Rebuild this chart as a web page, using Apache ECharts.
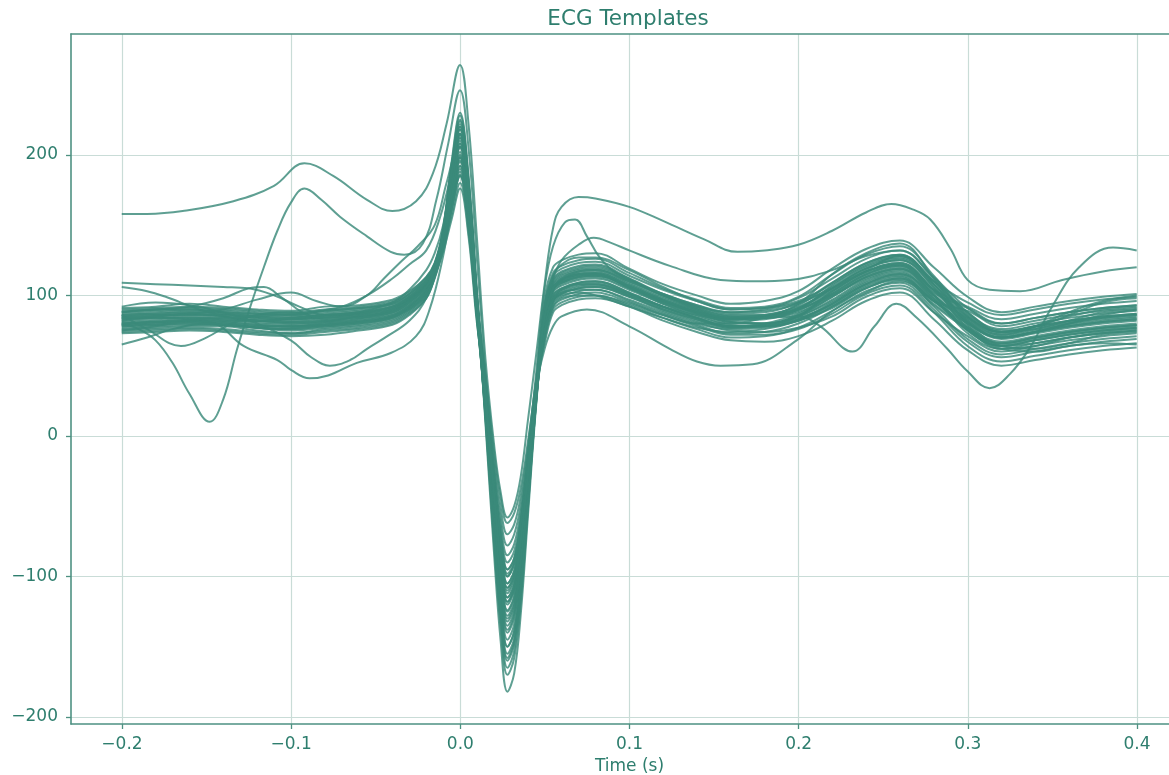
<!DOCTYPE html>
<html>
<head>
<meta charset="utf-8">
<script src="https://cdn.jsdelivr.net/npm/echarts@6/dist/echarts.min.js"></script>
<style>html,body{margin:0;padding:0;background:#fff}#chart{width:1169px;height:775px}</style>
</head>
<body>
<div id="chart"></div>
<script>
// ---------- data ----------
const chartTitle = 'ECG Templates';
const xAxisName = 'Time (s)';
const xTickValues = [-0.2, -0.1, 0.0, 0.1, 0.2, 0.3, 0.4];
const yTickValues = [-200, -100, 0, 100, 200];

// shared sample times (s) for the main bundle of templates
const times = [-0.20,-0.18,-0.16,-0.14,-0.12,-0.10,-0.08,-0.06,-0.04,-0.03,-0.02,
  -0.015,-0.01,-0.005,0,0.005,0.01,
  0.015,0.02,0.024,0.028,0.032,0.036,0.04,0.045,
  0.05,0.055,0.06,0.07,0.08,
  0.10,0.12,0.14,0.16,0.18,0.20,
  0.22,0.24,0.26,0.28,
  0.30,0.32,0.34,0.36,0.38,0.40];

const bundle01 = [84,85,87,85,82,83,84,86,90,97,108, 119,146,191,225,181,100, 9,-82,-146,-182,-169,-125,-59,22, 84,107,112,116,117, 108,98,90,84,85,91, 105,119,125,106, 82,71,75,79,82,84];
const bundle02 = [79,80,81,80,78,78,79,81,85,92,103, 116,143,184,215,173,96, 12,-75,-136,-170,-158,-117,-54,24, 78,100,105,109,110, 102,92,84,78,79,86, 99,113,119,98, 75,64,68,72,75,77];
const bundle03 = [88,90,90,88,87,86,89,91,94,101,111, 122,139,172,200,161,90, 15,-69,-127,-160,-148,-109,-49,25, 88,110,115,119,120, 111,101,93,87,88,95, 109,123,129,110, 87,76,80,84,87,89];
const bundle04 = [76,77,78,78,75,73,76,78,82,89,100, 114,136,165,190,153,86, 18,-63,-119,-150,-139,-102,-45,27, 72,94,99,103,104, 96,87,79,73,74,80, 92,106,112,92, 69,58,62,66,69,71];
const bundle05 = [82,84,83,82,82,80,81,85,88,95,106, 118,142,180,210,169,94, 20,-60,-114,-145,-134,-98,-43,27, 83,105,110,114,115, 106,96,88,82,83,89, 102,116,122,103, 81,70,74,78,81,83];
const bundle06 = [91,92,94,92,90,89,92,93,97,103,113, 123,148,195,230,185,102, 21,-57,-110,-140,-129,-94,-40,28, 92,114,119,123,124, 114,104,96,90,91,98, 112,126,132,113, 91,80,84,88,91,93];
const bundle07 = [73,74,75,74,72,71,72,75,79,86,98, 113,133,157,180,145,82, 23,-54,-106,-135,-125,-90,-38,29, 68,90,95,99,100, 93,84,76,70,71,76, 87,101,107,88, 64,53,57,61,64,66];
const bundle08 = [85,86,86,86,84,83,85,87,91,97,108, 120,137,169,195,157,88, 24,-51,-102,-130,-120,-87,-36,30, 80,102,107,111,112, 104,94,86,80,80,85, 97,111,117,98, 84,73,77,81,84,86];
const bundle09 = [80,81,82,81,79,78,80,82,86,93,104, 117,145,187,220,177,98, 26,-48,-97,-125,-115,-83,-34,30, 86,108,113,117,118, 109,99,90,84,85,91, 105,119,125,106, 77,66,70,74,77,79];
const bundle10 = [87,88,89,88,86,85,87,89,93,99,110, 121,140,176,205,165,92, 27,-45,-93,-120,-110,-79,-31,31, 76,98,103,107,108, 101,91,83,77,78,83, 94,108,114,96, 89,78,82,86,89,91];
const bundle11 = [77,78,79,79,77,75,77,79,83,90,101, 115,134,161,185,149,84, 29,-42,-89,-115,-106,-75,-29,32, 82,104,109,113,114, 106,96,88,83,85,94, 115,130,137,112, 79,64,66,70,73,75];
const bundle12 = [83,84,85,84,82,81,83,85,89,96,107, 119,142,181,212,171,95, 30,-39,-85,-110,-101,-72,-27,33, 90,112,117,121,122, 112,101,92,86,86,90, 101,115,121,104, 92,83,87,91,94,96];
const bundle13 = [78,79,80,79,77,76,78,80,84,91,102, 116,138,171,198,159,89, 32,-36,-80,-105,-96,-68,-25,33, 74,96,101,105,106, 99,89,81,75,74,77, 85,99,105,88, 71,60,64,68,71,73];
const bundle14 = [89,90,91,90,88,87,89,91,95,101,112, 122,145,189,222,179,99, 33,-33,-76,-100,-91,-64,-22,34, 84,106,111,115,116, 107,97,89,83,84,90, 107,121,127,110, 95,86,90,94,97,99];
const bundle15 = [75,76,77,76,74,73,75,77,81,88,99, 114,131,154,176,142,80, 35,-30,-72,-95,-87,-60,-20,35, 70,92,97,101,102, 95,86,78,72,72,77, 89,103,109,90, 67,56,60,64,67,69];
const bundle16 = [86,87,88,87,85,84,86,88,92,98,109, 120,141,178,208,167,93, 36,-27,-68,-90,-82,-57,-18,36, 94,116,121,125,126, 116,105,97,91,92,99, 115,129,135,114, 85,74,78,82,85,87];
const bundle17 = [81,82,83,82,80,79,81,83,87,94,105, 117,136,166,192,155,87, 38,-24,-63,-85,-77,-53,-16,36, 77,99,104,108,109, 101,92,84,78,78,83, 95,109,115,96, 80,69,73,77,80,82];
const bundle18 = [84,85,86,85,83,82,84,86,90,97,108, 119,147,193,228,183,101, 40,-20,-58,-78,-70,-48,-13,37, 87,109,114,118,119, 110,100,91,85,84,88, 100,114,120,101, 75,64,68,72,75,77];
const bundle19 = [74,75,76,75,73,72,74,76,80,87,98, 113,135,163,188,151,85, 42,-15,-51,-70,-63,-42,-9,39, 66,88,93,97,98, 92,82,74,68,67,71, 82,96,102,83, 61,50,54,58,61,63];
const bundle20 = [90,91,92,91,89,88,90,92,96,102,113, 123,143,184,215,173,96, 45,-10,-44,-62,-55,-36,-5,40, 98,120,125,129,130, 119,108,100,94,96,103, 119,133,139,120, 99,88,92,96,99,101];
const bundle21 = [79,80,81,80,78,77,79,81,85,92,103, 116,139,174,202,163,91, 17,-66,-123,-155,-144,-105,-47,26, 75,97,102,106,107, 100,90,82,77,78,85, 103,117,123,104, 83,72,76,80,83,85];
const bundle22 = [85,86,87,86,84,83,85,87,91,98,108, 120,137,169,196,158,88, 14,-72,-131,-165,-153,-113,-52,24, 82,104,109,113,114, 106,95,87,81,80,84, 93,107,113,94, 77,66,70,74,77,79];
const bundle23 = [83,84,84,83,82,81,82,85,89,96,107, 119,144,186,218,175,97, 22,-56,-108,-138,-127,-93,-40,29, 81,103,108,112,113, 105,95,87,81,80,85, 96,110,116,97, 78,67,71,75,78,80];
const bundle24 = [80,81,82,81,79,78,80,82,86,93,104, 117,140,177,206,166,92, 25,-50,-100,-128,-118,-85,-35,30, 84,106,111,115,116, 107,97,89,83,84,90, 103,117,123,104, 85,74,78,82,85,87];
const bundle25 = [86,87,88,87,85,84,86,88,92,99,109, 120,134,162,186,150,84, 18,-63,-119,-150,-139,-102,-45,27, 78,100,105,109,110, 102,92,84,78,79,86, 99,113,119,100, 73,62,66,70,73,75];
const bundle26 = [78,79,80,79,77,76,78,80,84,91,102, 116,146,190,224,180,99, 28,-44,-91,-118,-108,-77,-30,32, 89,111,116,120,121, 111,100,91,85,86,93, 109,123,129,108, 81,70,74,78,81,83];
const bundle27 = [88,89,90,89,87,86,88,90,94,100,111, 122,138,171,199,160,89, 16,-68,-125,-158,-146,-108,-48,25, 83,105,110,114,115, 105,94,85,79,78,82, 91,105,111,93, 76,65,69,73,76,78];
const bundle28 = [82,83,84,83,81,80,82,84,88,95,106, 118,143,183,214,172,96, 31,-38,-83,-108,-99,-70,-26,33, 74,96,101,105,106, 99,90,83,78,80,87, 101,115,121,102, 91,80,84,88,91,93];

// outlying templates, as [time, value] pairs
const outlierA = [[-0.2,158],[-0.185,158],[-0.164,160],[-0.134,167],[-0.11,178],[-0.092,194],[-0.075,185],[-0.055,168],[-0.04,160],[-0.026,167],[-0.016,187],[-0.008,222],[0,264],[0.005,222],[0.01,140],[0.015,55],[0.02,-5],[0.024,-40],[0.028,-58],[0.032,-50],[0.036,-28],[0.04,10],[0.045,58],[0.05,108],[0.055,148],[0.06,163],[0.07,170],[0.08,169],[0.1,163],[0.12,153],[0.144,140],[0.164,131],[0.18,132],[0.2,136],[0.22,146],[0.24,159],[0.255,165],[0.268,161],[0.278,154],[0.29,133],[0.3,111],[0.313,104],[0.331,103],[0.356,111],[0.38,117],[0.4,120]];
const outlierB = [[-0.2,80],[-0.19,76],[-0.18,68],[-0.17,52],[-0.16,30],[-0.148,10],[-0.14,26],[-0.132,61],[-0.124,92],[-0.116,120],[-0.108,146],[-0.1,166],[-0.092,176],[-0.082,168],[-0.071,156],[-0.055,142],[-0.041,131],[-0.033,129],[-0.022,137],[-0.014,168],[-0.007,208],[0,246],[0.005,205],[0.01,125],[0.015,45],[0.02,-25],[0.024,-70],[0.028,-95],[0.032,-87],[0.036,-60],[0.04,-15],[0.045,45],[0.05,105],[0.055,135],[0.062,152],[0.068,154],[0.075,142],[0.082,128],[0.09,118],[0.1,112],[0.12,100],[0.14,92],[0.16,88],[0.18,90],[0.2,95],[0.22,105],[0.24,118],[0.26,128],[0.28,110],[0.3,88],[0.32,75],[0.34,78],[0.36,85],[0.38,90],[0.4,92]];
const outlierC = [[-0.2,75],[-0.18,78],[-0.16,82],[-0.145,80],[-0.128,64],[-0.108,54],[-0.1,47],[-0.089,41],[-0.078,43],[-0.061,52],[-0.041,59],[-0.026,71],[-0.018,90],[-0.01,128],[-0.005,162],[0,185],[0.005,150],[0.01,85],[0.015,28],[0.02,-44],[0.024,-91],[0.028,-118],[0.032,-109],[0.036,-78],[0.04,-30],[0.045,31],[0.05,78],[0.055,95],[0.06,100],[0.07,102],[0.08,100],[0.1,92],[0.12,84],[0.14,77],[0.16,74],[0.18,76],[0.2,82],[0.22,92],[0.24,105],[0.26,112],[0.28,96],[0.3,76],[0.32,62],[0.34,64],[0.36,70],[0.38,74],[0.4,76]];
const outlierD = [[-0.2,92],[-0.18,95],[-0.16,93],[-0.14,88],[-0.12,80],[-0.1,68],[-0.088,56],[-0.077,50],[-0.065,54],[-0.055,62],[-0.043,71],[-0.03,82],[-0.02,98],[-0.012,128],[-0.005,168],[0,192],[0.005,155],[0.01,87],[0.015,31],[0.02,-38],[0.024,-83],[0.028,-108],[0.032,-99],[0.036,-70],[0.04,-26],[0.045,33],[0.05,80],[0.055,97],[0.06,102],[0.07,104],[0.08,104],[0.1,97],[0.12,88],[0.14,80],[0.16,76],[0.18,77],[0.2,82],[0.22,94],[0.24,108],[0.26,115],[0.28,100],[0.3,80],[0.32,70],[0.34,74],[0.36,80],[0.38,86],[0.4,90]];
const outlierE = [[-0.2,88],[-0.18,90],[-0.16,92],[-0.14,98],[-0.125,105],[-0.116,106],[-0.105,98],[-0.09,86],[-0.07,82],[-0.05,86],[-0.04,90],[-0.03,96],[-0.02,106],[-0.015,118],[-0.01,141],[-0.005,178],[0,208],[0.005,168],[0.01,94],[0.015,32],[0.02,-36],[0.024,-80],[0.028,-105],[0.032,-96],[0.036,-68],[0.04,-25],[0.045,33],[0.05,88],[0.055,112],[0.06,125],[0.07,136],[0.079,141],[0.09,137],[0.1,132],[0.124,121],[0.154,111],[0.175,110],[0.195,111],[0.22,118],[0.24,128],[0.26,132],[0.28,112],[0.3,88],[0.32,74],[0.34,78],[0.36,86],[0.38,95],[0.4,98]];
const outlierF = [[-0.2,109],[-0.18,108],[-0.16,107],[-0.14,106],[-0.125,105],[-0.11,100],[-0.095,92],[-0.08,86],[-0.06,87],[-0.04,92],[-0.03,99],[-0.02,110],[-0.015,122],[-0.01,145],[-0.005,183],[0,215],[0.005,173],[0.01,96],[0.015,33],[0.02,-33],[0.024,-76],[0.028,-100],[0.032,-91],[0.036,-64],[0.04,-22],[0.045,34],[0.05,62],[0.055,78],[0.06,85],[0.075,90],[0.1,78],[0.124,62],[0.14,53],[0.154,50],[0.173,51],[0.199,68],[0.219,88],[0.24,102],[0.26,110],[0.28,96],[0.3,76],[0.32,62],[0.34,60],[0.36,64],[0.38,66],[0.4,65]];
const outlierG = [[-0.2,106],[-0.185,103],[-0.174,99],[-0.154,90],[-0.135,84],[-0.115,82],[-0.1,84],[-0.08,86],[-0.06,88],[-0.04,95],[-0.03,104],[-0.02,118],[-0.015,130],[-0.01,150],[-0.005,185],[0,220],[0.005,178],[0.01,98],[0.015,34],[0.02,-32],[0.024,-74],[0.028,-98],[0.032,-89],[0.036,-62],[0.04,-21],[0.045,34],[0.05,92],[0.055,114],[0.06,122],[0.07,127],[0.08,127],[0.1,118],[0.12,106],[0.14,96],[0.16,90],[0.18,91],[0.2,96],[0.22,108],[0.24,122],[0.26,128],[0.28,108],[0.3,84],[0.32,72],[0.34,78],[0.36,88],[0.38,96],[0.4,100]];
const outlierH = [[-0.2,86],[-0.185,76],[-0.165,64],[-0.15,70],[-0.135,80],[-0.12,86],[-0.1,88],[-0.08,84],[-0.06,84],[-0.04,88],[-0.03,95],[-0.02,106],[-0.015,119],[-0.01,141],[-0.005,177],[0,206],[0.005,166],[0.01,93],[0.015,26],[0.02,-47],[0.024,-96],[0.028,-124],[0.032,-114],[0.036,-82],[0.04,-33],[0.045,31],[0.05,78],[0.055,97],[0.06,104],[0.07,108],[0.08,108],[0.1,100],[0.12,92],[0.14,86],[0.16,83],[0.18,84],[0.2,85],[0.213,78],[0.232,60],[0.245,78],[0.258,94],[0.27,84],[0.288,62],[0.3,46],[0.313,34],[0.325,44],[0.337,63],[0.35,92],[0.366,120],[0.386,134],[0.4,132]];
const outlierJ = [[-0.2,65],[-0.185,70],[-0.17,76],[-0.15,80],[-0.13,78],[-0.11,76],[-0.09,78],[-0.07,80],[-0.05,82],[-0.04,85],[-0.03,90],[-0.02,100],[-0.015,112],[-0.01,134],[-0.005,170],[0,198],[0.005,160],[0.01,88],[0.015,24],[0.02,-52],[0.024,-103],[0.028,-132],[0.032,-122],[0.036,-88],[0.04,-37],[0.045,29],[0.05,74],[0.055,92],[0.06,98],[0.07,100],[0.08,100],[0.1,94],[0.12,86],[0.14,80],[0.16,80],[0.18,84],[0.2,90],[0.22,100],[0.24,112],[0.26,118],[0.28,100],[0.3,80],[0.32,64],[0.34,62],[0.36,66],[0.38,72],[0.4,74]];
const outlierK = [[-0.2,84],[-0.17,86],[-0.14,90],[-0.12,97],[-0.1,102],[-0.085,96],[-0.07,92],[-0.055,100],[-0.045,112],[-0.035,124],[-0.025,135],[-0.015,150],[-0.008,180],[0,212],[0.005,170],[0.01,95],[0.015,29],[0.02,-42],[0.024,-89],[0.028,-115],[0.032,-106],[0.036,-75],[0.04,-29],[0.045,32],[0.05,84],[0.055,104],[0.06,111],[0.07,115],[0.08,115],[0.1,106],[0.12,96],[0.14,88],[0.16,84],[0.18,86],[0.2,92],[0.22,104],[0.24,117],[0.26,122],[0.28,104],[0.3,82],[0.32,70],[0.34,74],[0.36,80],[0.38,84],[0.4,86]];
const outlierL = [[-0.2,80],[-0.17,82],[-0.14,84],[-0.11,86],[-0.09,88],[-0.07,92],[-0.055,100],[-0.04,112],[-0.03,122],[-0.02,132],[-0.012,155],[-0.005,188],[0,218],[0.005,176],[0.01,97],[0.015,30],[0.02,-40],[0.024,-87],[0.028,-112],[0.032,-103],[0.036,-73],[0.04,-28],[0.045,33],[0.05,85],[0.055,105],[0.06,112],[0.07,117],[0.08,118],[0.1,110],[0.12,101],[0.14,93],[0.16,88],[0.18,89],[0.2,94],[0.22,106],[0.24,120],[0.26,126],[0.28,108],[0.3,86],[0.32,74],[0.34,76],[0.36,82],[0.38,88],[0.4,90]];

const bundleSeries = [bundle01,bundle02,bundle03,bundle04,bundle05,bundle06,bundle07,bundle08,bundle09,bundle10,bundle11,bundle12,bundle13,bundle14,
  bundle15,bundle16,bundle17,bundle18,bundle19,bundle20,bundle21,bundle22,bundle23,bundle24,bundle25,bundle26,bundle27,bundle28];
const outlierSeries = [outlierA,outlierB,outlierC,outlierD,outlierE,outlierF,outlierG,outlierH,outlierJ,outlierK,outlierL];

// ---------- style ----------
const TEXT = '#2e7e6e';
const SPINE = '#4e9182';
const GRIDC = '#c9dcd7';
const LINEC = 'rgb(58,138,122)';
const FONT = 'DejaVu Sans';

const minusFmt = (v, digits) => {
  const s = Math.abs(v).toFixed(digits);
  return (v < -1e-9 ? '\u2212' : '') + s;
};

const lineStyle = { color: LINEC, width: 2, opacity: 0.82 };
const series = [];
bundleSeries.forEach(vals => {
  series.push({ type: 'line', xAxisIndex: 0, yAxisIndex: 0, symbol: 'none', smooth: 0.4, silent: true, z: 3,
    lineStyle, data: times.map((t, i) => [t, vals[i]]) });
});
outlierSeries.forEach(pairs => {
  series.push({ type: 'line', xAxisIndex: 0, yAxisIndex: 0, symbol: 'none', smooth: 0.4, silent: true, z: 3,
    lineStyle, data: pairs });
});

const spineStyle = { color: SPINE, width: 1.6 };
const chart = echarts.init(document.getElementById('chart'), null, { renderer: 'canvas' });
chart.setOption({
  animation: false,
  backgroundColor: '#ffffff',
  title: {
    text: chartTitle, left: 623, top: 3, textAlign: 'center',
    textStyle: { color: TEXT, fontSize: 21.5, fontWeight: 'normal', fontFamily: FONT }
  },
  grid: [
    { left: 71, top: 34, width: 1098, height: 690, outerBoundsMode: 'none', containLabel: false },
    { left: 122, top: 34, width: 1015, height: 690, outerBoundsMode: 'none', containLabel: false },
    { left: 71, top: 155, width: 1098, height: 562, outerBoundsMode: 'none', containLabel: false }
  ],
  xAxis: [
    { gridIndex: 0, type: 'value', min: -0.23, max: 0.4191, position: 'bottom',
      axisLine: { show: true, onZero: false, lineStyle: spineStyle },
      axisTick: { show: false }, axisLabel: { show: false }, splitLine: { show: false } },
    { gridIndex: 1, type: 'value', min: xTickValues[0], max: xTickValues[xTickValues.length - 1], interval: 0.1,
      axisLine: { show: false },
      axisTick: { show: true, length: 5, lineStyle: { color: SPINE, width: 1.3 } },
      axisLabel: { color: TEXT, fontSize: 17, fontFamily: FONT, margin: 12, formatter: v => minusFmt(v, 1) },
      splitLine: { show: true, lineStyle: { color: GRIDC, width: 1.2 } },
      name: xAxisName, nameLocation: 'middle', nameGap: 33,
      nameTextStyle: { color: TEXT, fontSize: 17, fontFamily: FONT } },
    { gridIndex: 2, type: 'value', min: 0, max: 1, show: false },
    { gridIndex: 0, type: 'value', min: -0.23, max: 0.4191, position: 'top',
      axisLine: { show: true, onZero: false, lineStyle: spineStyle },
      axisTick: { show: false }, axisLabel: { show: false }, splitLine: { show: false } }
  ],
  yAxis: [
    { gridIndex: 0, type: 'value', min: -205, max: 286, position: 'left',
      axisLine: { show: true, onZero: false, lineStyle: spineStyle },
      axisTick: { show: false }, axisLabel: { show: false }, splitLine: { show: false } },
    { gridIndex: 1, type: 'value', min: 0, max: 1, show: false },
    { gridIndex: 2, type: 'value', min: yTickValues[0], max: yTickValues[yTickValues.length - 1], interval: 100,
      axisLine: { show: false },
      axisTick: { show: true, length: 5, lineStyle: { color: SPINE, width: 1.3 } },
      axisLabel: { color: TEXT, fontSize: 17, fontFamily: FONT, margin: 13, formatter: v => minusFmt(v, 0) },
      splitLine: { show: true, lineStyle: { color: GRIDC, width: 1.2 } } }
  ],
  series
});
</script>
</body>
</html>
